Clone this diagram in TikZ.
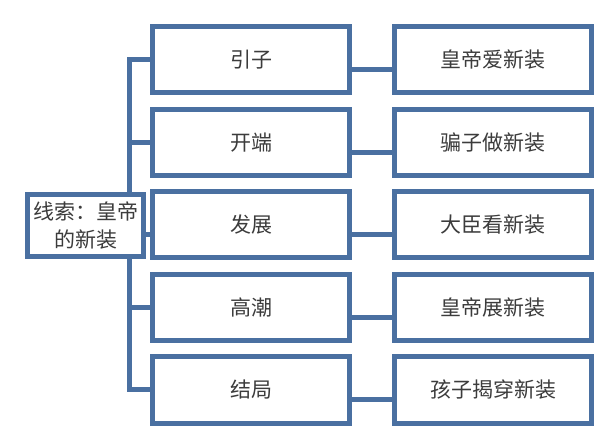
\documentclass[tikz,border=0pt]{standalone}
\usepackage{fontspec}
\usepackage{tikz}
\usetikzlibrary{positioning}
\newfontfamily\cjk{Noto Sans CJK SC}
\definecolor{frameblue}{RGB}{74,112,161}
\definecolor{txtgray}{RGB}{60,60,60}

\begin{document}
\begin{tikzpicture}[x=1pt,y=-1pt,
    stage/.style={draw=frameblue, line width=5pt, fill=white,
        minimum width=197pt, minimum height=66pt,
        font=\cjk\fontsize{21}{28}\selectfont, text=txtgray},
    lnk/.style={draw=frameblue, line width=5pt}]

    \useasboundingbox (0,0) rectangle (605,435);

    % stages and what happens in each
    \foreach \n/\y/\a/\b in {1/59.5/引子/皇帝爱新装, 2/142.1/开端/骗子做新装,
        3/224.7/发展/大臣看新装, 4/307.3/高潮/皇帝展新装, 5/390/结局/孩子揭穿新装} {
        \node[stage] (mid\n) at (251,\y) {\a};
        \node[stage, right=40pt of mid\n] (res\n) {\b};
        \draw[lnk] ([yshift=-10pt]mid\n.east) -- ([yshift=-10pt]res\n.west);
    }

    % trunk on the left
    \draw[lnk] (mid1.west) -- ++(-20.5,0) coordinate (top) |- (mid5.west);
    \foreach \n in {2,4} {
        \draw[lnk] (mid\n.west) -- (mid\n.west -| top);
    }

    \node[stage, minimum width=116pt, minimum height=62pt, inner sep=1pt,
        align=center] (lead) at (85.5,225.5) {线索：皇帝\\的新装};
    \draw[lnk] ([yshift=-9.5pt]mid3.west) -- ([yshift=-9.5pt]mid3.west -| lead.east);

\end{tikzpicture}
\end{document}
